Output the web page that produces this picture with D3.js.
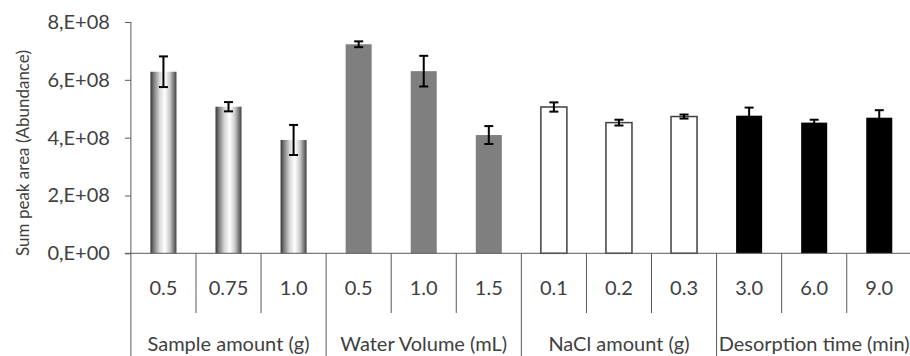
<!DOCTYPE html>
<html>
<head>
<meta charset="utf-8">
<script src="https://cdn.jsdelivr.net/npm/d3@7"></script>
<style>
  body { margin: 0; background: #fff; }
  svg text { font-family: Lato, "Open Sans", sans-serif; fill: #404040; }
</style>
</head>
<body>
<svg width="910" height="356"></svg>
<script>
// data
var groups = ["Sample amount (g)", "Water Volume (mL)", "NaCl amount (g)", "Desorption time (min)"];
var labels = ["0.5", "0.75", "1.0", "0.5", "1.0", "1.5", "0.1", "0.2", "0.3", "3.0", "6.0", "9.0"];
var groupOf = [0, 0, 0, 1, 1, 1, 2, 2, 2, 3, 3, 3];
var values = [6.28e8, 5.07e8, 3.92e8, 7.23e8, 6.30e8, 4.09e8, 5.06e8, 4.52e8, 4.73e8, 4.76e8, 4.52e8, 4.69e8];
var errors = [0.53e8, 0.16e8, 0.52e8, 0.10e8, 0.53e8, 0.31e8, 0.16e8, 0.10e8, 0.07e8, 0.28e8, 0.10e8, 0.26e8];
var yTicks = [0, 2e8, 4e8, 6e8, 8e8];

var svg = d3.select("svg"),
    height = +svg.attr("height");

var plotLeft = 130.9, plotRight = 911.8, plotTop = 22, base = 253.3;
var ids = d3.range(labels.length);

var y = d3.scaleLinear().domain([0, 8e8]).range([base, plotTop]);
var x = d3.scaleBand().domain(ids).range([plotLeft, plotRight])
    .paddingInner(0.6).paddingOuter(0.3);
var cell = d3.scaleBand().domain(ids).range([plotLeft, plotRight]);

// cylinder-like gradient for the first group
var defs = svg.append("defs");
var grad = defs.append("linearGradient").attr("id", "cyl")
    .attr("x1", "0%").attr("x2", "100%").attr("y1", "0%").attr("y2", "0%");
[[0, "#333"], [0.12, "#777"], [0.35, "#d8d8d8"], [0.55, "#fff"], [0.75, "#c8c8c8"], [0.9, "#777"], [1, "#444"]]
  .forEach(function(s) {
    grad.append("stop").attr("offset", s[0]).attr("stop-color", s[1]);
  });

var fills = ["url(#cyl)", "#7f7f7f", "#fff", "#000"];
var strokes = ["none", "none", "#404040", "none"];

// y axis
var yAxis = svg.append("g")
    .attr("transform", "translate(" + plotLeft + ",0)")
    .call(d3.axisLeft(y).tickValues(yTicks).tickSize(6).tickSizeOuter(0)
      .tickFormat(function(d) { return (d / 1e8).toFixed(0) + ",E+" + (d === 0 ? "00" : "08"); }));
yAxis.select(".domain").remove();
yAxis.selectAll(".tick line").attr("stroke", "#595959");
yAxis.selectAll(".tick text")
    .attr("x", -21)
    .style("font-size", "20px")
    .style("font-family", "Lato, sans-serif")
    .attr("fill", "#404040");

// bars
svg.append("g").selectAll("rect")
    .data(ids)
  .enter().append("rect")
    .attr("x", function(d) { return x(d); })
    .attr("y", function(d) { return y(values[d]); })
    .attr("width", x.bandwidth())
    .attr("height", function(d) { return base - y(values[d]); })
    .attr("fill", function(d) { return fills[groupOf[d]]; })
    .attr("stroke", function(d) { return strokes[groupOf[d]]; })
    .attr("stroke-width", 1.5);

// error bars
var err = svg.append("g").attr("stroke", "#000").attr("stroke-width", 2);
ids.forEach(function(d) {
  var cx = x(d) + x.bandwidth() / 2,
      hi = y(values[d] + errors[d]),
      lo = y(values[d] - errors[d]);
  err.append("line").attr("x1", cx).attr("x2", cx).attr("y1", hi).attr("y2", lo);
  err.append("line").attr("x1", cx - 4.5).attr("x2", cx + 4.5).attr("y1", hi).attr("y2", hi);
  err.append("line").attr("x1", cx - 4.5).attr("x2", cx + 4.5).attr("y1", lo).attr("y2", lo);
});

// axis lines
var axes = svg.append("g").attr("stroke", "#595959").attr("stroke-width", 1);
axes.append("line").attr("x1", plotLeft).attr("x2", plotLeft).attr("y1", plotTop).attr("y2", height);
axes.append("line").attr("x1", plotLeft - 6).attr("x2", 910).attr("y1", base).attr("y2", base);

// category separators (group boundaries run to the bottom)
ids.slice(1).forEach(function(d) {
  var xx = cell(d);
  axes.append("line")
      .attr("x1", xx).attr("x2", xx)
      .attr("y1", base)
      .attr("y2", groupOf[d] !== groupOf[d - 1] ? height : 313);
});

// category labels
svg.append("g").selectAll("text")
    .data(ids)
  .enter().append("text")
    .attr("x", function(d) { return cell(d) + cell.bandwidth() / 2; })
    .attr("y", 295)
    .attr("text-anchor", "middle")
    .style("font-size", "20px")
    .text(function(d) { return labels[d]; });

// group labels
svg.append("g").selectAll("text")
    .data(groups)
  .enter().append("text")
    .attr("x", function(d, i) { return cell(i * 3) + cell.step() * 1.5; })
    .attr("y", 351)
    .attr("text-anchor", "middle")
    .style("font-size", "20px")
    .text(function(d) { return d; });

// y label
svg.append("text")
    .attr("transform", "translate(29,153) rotate(-90)")
    .attr("text-anchor", "middle")
    .style("font-size", "17px")
    .text("Sum peak area (Abundance)");
</script>
</body>
</html>
